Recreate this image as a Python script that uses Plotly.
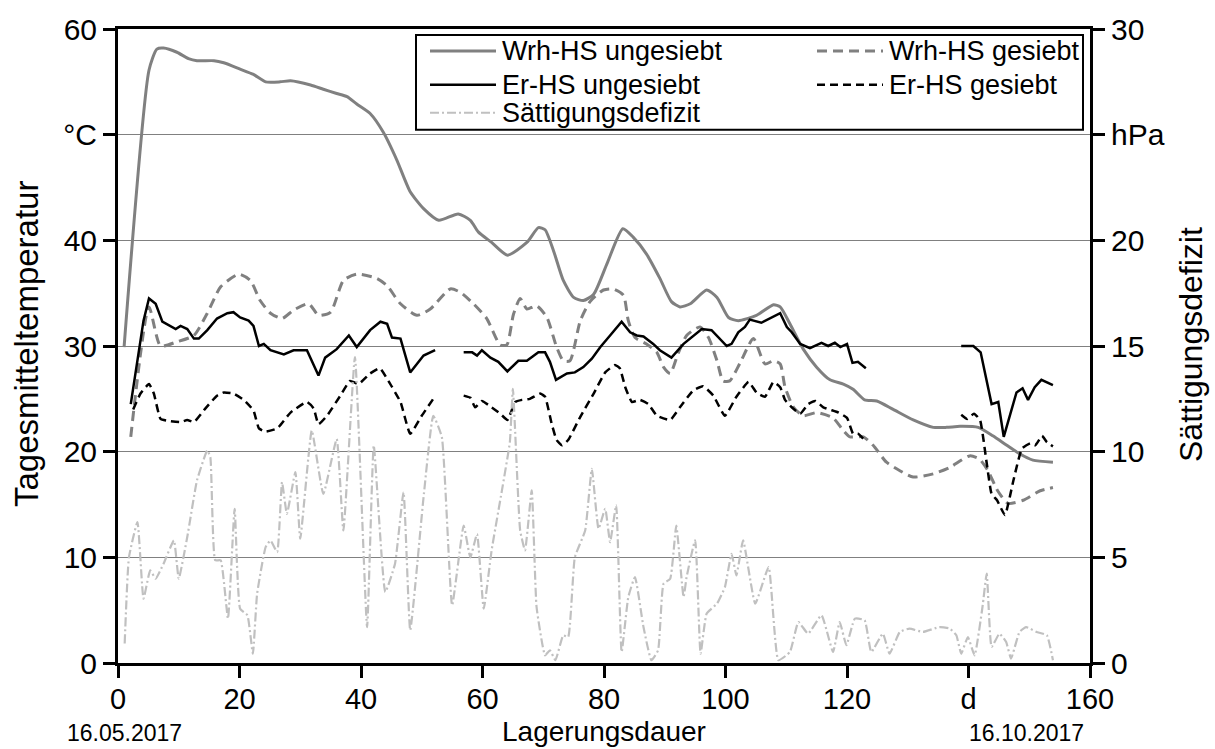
import plotly.graph_objects as go

# ---------------- data ----------------
wrh_ung_day = [1, 5.1, 6.4, 7.5, 9.7, 11.6, 13, 15.8, 17.4, 20.1, 22.3, 24.3, 26.7, 28.4, 31.7, 33.8, 36, 37.7,
               39.3, 41.5, 43.7, 45.9, 48.1, 50.3, 52.8, 56, 58, 59.3, 61.5, 64.1, 67.3, 69.2, 70.3, 71.7, 73.3,
               75, 76.6, 78.3, 80.5, 83.1, 84.8, 87, 89.2, 91.1, 92.5, 94.2, 96.9, 98.6, 100.5, 102.1, 105.1,
               107.9, 109, 110.6, 112.8, 115, 117.2, 119.4, 121, 122.9, 124.9, 127.6, 130.9, 134.2, 136.4,
               138.6, 141.6, 144, 146.3, 148.4, 150.6, 153.9]
wrh_ung = [29.9, 56.1, 58.1, 58.2, 57.8, 57.2, 57.0, 57.0, 56.8, 56.2, 55.7, 55.0, 55.0, 55.1, 54.7, 54.3, 53.9, 53.6,
           52.9, 52.0, 50.2, 47.6, 44.6, 43.0, 41.9, 42.5, 41.9, 40.8, 39.8, 38.6, 39.8, 41.2, 41.0, 39.0, 36.2,
           34.6, 34.3, 34.9, 37.8, 41.1, 40.3, 38.7, 36.4, 34.2, 33.7, 34.0, 35.3, 34.6, 32.7, 32.4, 32.9,
           33.9, 33.7, 32.1, 29.7, 28.0, 26.8, 26.4, 25.9, 24.9, 24.8, 24.0, 23.0, 22.3, 22.3,
           22.4, 22.3, 21.5, 20.6, 19.8, 19.2, 19.0]

wrh_ges_day = [2.1, 5.1, 7, 9.7, 12.5, 14.7, 16.9, 19.9, 21.8, 23.4, 25.1, 27, 28.9, 31.4, 33, 35, 37.1, 39.3,
               42.6, 44.3, 46.5, 49.2, 51.4, 54.7, 56.3, 58.5, 60.7, 62.9, 64, 65.1, 66.2, 67.3, 68.9, 70.6,
               72.2, 73.3, 74.4, 76.1, 77.7, 79.9, 81.5, 83.2, 84, 85.1, 87, 88.7, 89.8, 90.9, 92.2, 93.6,
               95.8, 97.2, 98.6, 99.6, 100.7, 102.4, 104.6, 106.5, 107.9, 109, 109.8, 111.2, 112.8, 115,
               117.7, 119.4, 120.5, 122.7, 124.3, 126.5, 128.7, 130.9, 134.2, 136.9, 140.2, 141.8, 143.2,
               144.8, 146.5, 149, 151.8, 153.9]
wrh_ges = [21.4, 33.7, 30.0, 30.4, 31.0, 33.1, 35.6, 36.8, 36.2, 34.3, 33.1, 32.6, 33.4, 34.0, 32.9, 33.2, 36.2, 36.8,
           36.4, 35.7, 34.0, 32.9, 33.5, 35.4, 35.1, 34.0, 32.6, 30.1, 30.1, 33.0, 34.5, 33.5, 33.8, 32.7,
           29.9, 28.6, 28.6, 32.4, 34.2, 35.3, 35.4, 34.8, 32.4, 30.8, 30.2, 29.4, 28.0, 27.4, 29.3, 31.0,
           31.8, 30.8, 28.6, 26.7, 26.7, 28.4, 30.7, 28.3, 28.6, 28.3, 26.1, 24.2, 23.4, 23.7,
           23.2, 22.0, 21.4, 21.4, 20.6, 19.0, 18.2, 17.6, 17.9, 18.5, 19.6, 19.3, 18.2,
           16.3, 15.1, 15.4, 16.3, 16.6]

er_ung_day = [2.1, 4.2, 5.1, 6.2, 7.3, 8.6, 9.5, 10.3, 11.4, 12.5, 13.3, 14.7, 16.3, 18, 19, 20.1, 21.5, 22.3,
              23.2, 24, 25.1, 27.3, 28.9, 31.1, 33, 34.1, 36, 38, 39.3, 41.5, 43.2, 44.3, 45.1, 46.5, 48.1,
              50.3, 52.2, 54.5,
              56.9, 58.3, 59.1, 59.9, 61.3, 62.6, 64.1, 65.9, 67.3, 69.2, 70.3, 71.1, 72.1, 73.9, 75.2, 76.6,
              78, 79.4, 81, 82.9, 84.3, 85.4, 86.5, 88.1, 89.2, 91.1, 93.1, 94.4, 96.1, 97.7, 99.1, 100.2,
              101, 102.1, 103.2, 104, 105.9, 107.6, 109, 110.1, 110.9, 112.3, 113.9, 115.8, 116.9, 118,
              118.9, 120, 120.9, 121.8, 123.1, 131,
              138.8, 140.8, 142, 143.8, 144.9, 145.8, 147.9, 148.9, 149.8, 150.9, 152, 153.9]
er_ung = [24.5, 32.4, 34.5, 34.0, 32.3, 31.9, 31.6, 31.9, 31.6, 30.7, 30.7, 31.5, 32.6, 33.1, 33.2, 32.7, 32.4, 31.9,
          30.0, 30.2, 29.6, 29.2, 29.6, 29.6, 27.2, 28.9, 29.7, 31.0, 29.9, 31.5, 32.3, 32.1, 30.8, 30.7, 27.5,
          29.1, 29.6, None,
          29.4, 29.4, 29.1, 29.6, 28.9, 28.5, 27.6, 28.6, 28.6, 29.4, 29.4, 28.5, 26.8, 27.4, 27.5, 28.0,
          28.8, 29.9, 31.0, 32.3, 31.3, 31.0, 30.9, 30.2, 29.6, 28.9, 30.2, 30.8, 31.6, 31.5, 30.7, 30.0,
          30.2, 31.3, 31.8, 32.5, 32.2, 32.7, 33.1, 31.8, 31.3, 30.2, 29.8, 30.3, 30.0, 30.3,
          29.9, 30.2, 28.4, 28.5, 27.9, None,
          30.0, 30.0, 29.4, 24.5, 24.7, 21.4, 25.6, 26.0, 24.9, 26.1, 26.8, 26.3]

er_ges_day = [2.5, 3.7, 5.1, 5.9, 7, 8.4, 10.3, 11.4, 12.5, 14.4, 16.3, 17.4, 19, 20.7, 22.3, 23.2, 24.3, 26.2,
              28.4, 31.1, 32.2, 33, 34.4, 36.6, 38.2, 39.6, 41.5, 43.1, 44.5, 46.5, 48.1, 50, 51.9, 54.5,
              56.9, 58, 58.8, 59.9, 61.5, 62.9, 64.1, 65.4, 66.5, 67.8, 69.5, 70.3, 71.4, 72.2, 73.1, 74.1,
              76.1, 78.3, 80.2, 81.8, 82.6, 83.5, 84.6, 85.9, 87.3, 88.7, 90.9, 92.5, 94.7, 96.3, 98, 99.9,
              101.8, 103.8, 105.1, 106.5, 107.9, 109, 109.8, 110.9, 112.3, 113.6, 114.8, 116.1, 118.6, 120,
              121, 121.8, 122.9, 131,
              138.8, 139.8, 140.9, 141.9, 143, 143.8, 144.7, 146, 147.4, 148.8, 150.2, 151, 152.1, 152.9, 153.9]
er_ges = [24.0, 25.5, 26.4, 25.5, 23.1, 22.9, 22.8, 23.0, 22.8, 24.1, 25.3, 25.6, 25.5, 24.9, 23.9, 22.2, 21.9, 22.2,
          23.7, 24.7, 24.1, 22.6, 23.4, 25.3, 26.7, 26.4, 27.4, 27.9, 26.7, 24.7, 21.7, 23.4, 25.0, None,
          25.3, 25.1, 24.2, 24.8, 24.2, 23.6, 23.0, 24.7, 24.9, 25.0, 25.5, 25.2, 22.6, 21.1, 20.6, 21.1,
          23.3, 25.5, 27.5, 28.2, 27.9, 26.1, 24.7, 24.9, 24.5, 23.4, 23.0, 24.2, 25.8, 26.2, 25.3, 23.4,
          25.2, 26.6, 25.6, 25.2, 26.6, 26.1, 24.9, 24.2, 23.6, 24.5, 24.8, 24.2, 23.7, 23.2,
          21.7, 21.7, 21.1, None,
          23.5, 23.1, 23.6, 23.0, 18.9, 16.0, 15.4, 14.0, 17.3, 20.3, 20.8, 20.6, 21.5, 20.9, 20.5]

sd_day = [1.1, 1.8, 3.2, 4.2, 5.3, 6.2, 7.5, 9.2, 10, 11.4, 13, 14.7, 15.2, 16, 16.9, 18.1, 19.2, 20.1, 21.3,
          22.2, 22.9, 24.3, 25.1, 26.2, 27, 27.8, 29.2, 30, 31.9, 33.8, 36, 37.1, 39, 41, 42.1, 44, 45.6, 47,
          48.1, 50.3, 51.9, 53.3, 55, 56.9, 58, 59.1, 60.2, 61.5, 63.2, 64.5, 65, 66.2, 67, 68.1, 68.9, 70.3,
          71.1, 72, 73.3, 74.1, 75.2, 76.9, 78, 79.1, 80.2, 81, 82, 82.9, 84, 85.1, 86.5, 87.8, 88.9, 89.8,
          90.9, 91.9, 93.1, 93.6, 95, 95.9, 96.9, 98.6, 99.9, 101, 101.8, 102.9, 104.9, 107.1, 108.7, 110.6,
          112, 113.6, 115.8, 117.7, 118.8, 119.9, 121.3, 122.9, 124, 125.9, 127, 128.7, 130.3, 132.5, 135.2,
          136.9, 138, 138.8, 139.9, 141, 142.3, 143, 143.8, 145.1, 146.2, 147, 148.4, 149.5, 151.2, 152.9, 153.9]
sd = [0.92, 5.0, 6.67, 3.04, 4.38, 3.99, 4.7, 5.8, 3.99, 5.96, 8.64, 10.06, 9.74, 4.86, 4.86, 2.1, 7.3, 2.57, 2.26,
      0.44, 3.28, 5.48, 5.8, 5.25, 8.56, 7.06, 9.03, 5.88, 11.0, 8.0, 10.6, 6.27, 14.47, 1.7, 10.29, 3.36, 4.7, 8.08,
      1.55, 7.85, 11.7, 10.7, 2.73, 6.5, 5.0, 6.1, 2.57, 5.33, 8.17, 10.45, 12.97, 6.27, 5.33, 8.17, 2.65, 0.36,
      0.6, 0.13, 1.31, 1.23, 5.0, 6.27, 9.19, 6.35, 7.3, 5.72, 7.46, 0.52, 3.12, 4.07, 1.7, 0.13, 0.6, 3.75,
      3.99, 6.5, 3.12, 4.07, 5.8, 0.44, 2.34, 2.81, 3.59, 5.17, 4.15, 5.8, 2.81, 4.54, 0.13, 0.52,
      1.94, 1.39, 2.26, 0.52, 1.94, 0.84, 2.1, 2.02, 0.52, 1.39, 0.44, 1.47, 1.63, 1.47, 1.7,
      1.63, 1.31, 0.44, 1.23, 0.36, 2.65, 4.23, 0.76, 1.39, 0.99, 0.21, 1.47, 1.7, 1.47, 1.31, 0.13]

x_tickvals = [0, 20, 40, 60, 80, 100, 120, 140, 160]
x_ticktext = ["0", "20", "40", "60", "80", "100", "120", "d", "160"]
y_tickvals = [0, 10, 20, 30, 40, 50, 60]
y_ticktext = ["0", "10", "20", "30", "40", "°C", "60"]
y2_tickvals = [0, 5, 10, 15, 20, 25, 30]
y2_ticktext = ["0", "5", "10", "15", "20", "hPa", "30"]

series_names = ["Wrh-HS ungesiebt", "Wrh-HS gesiebt", "Er-HS ungesiebt", "Er-HS gesiebt", "Sättigungsdefizit"]
date_start, date_end = "16.05.2017", "16.10.2017"

FONT = "Liberation Sans, Arial, sans-serif"
GRAY = "#808080"
LIGHT = "#c0c0c0"

styles = {
    "Wrh-HS ungesiebt": dict(color=GRAY, width=3),
    "Wrh-HS gesiebt": dict(color=GRAY, width=3, dash="10px,6px"),
    "Er-HS ungesiebt": dict(color="black", width=2.5),
    "Er-HS gesiebt": dict(color="black", width=2.5, dash="8px,5px"),
    "Sättigungsdefizit": dict(color=LIGHT, width=2.2, dash="9px,3px,2px,3px"),
}

fig = go.Figure()
fig.add_trace(go.Scatter(x=wrh_ung_day, y=wrh_ung, name=series_names[0], mode="lines",
                         line=dict(**styles[series_names[0]], shape="spline", smoothing=0.6)))
fig.add_trace(go.Scatter(x=sd_day, y=sd, name=series_names[4], mode="lines", yaxis="y2",
                         line=dict(**styles[series_names[4]], shape="spline", smoothing=0.4)))
fig.add_trace(go.Scatter(x=wrh_ges_day, y=wrh_ges, name=series_names[1], mode="lines",
                         line=dict(**styles[series_names[1]], shape="spline", smoothing=0.6)))
fig.add_trace(go.Scatter(x=er_ges_day, y=er_ges, name=series_names[3], mode="lines",
                         line=dict(**styles[series_names[3]], shape="spline", smoothing=0.4)))
fig.add_trace(go.Scatter(x=er_ung_day, y=er_ung, name=series_names[2], mode="lines",
                         line=dict(**styles[series_names[2]])))

axis_common = dict(showline=True, linecolor="black", linewidth=3, ticks="outside", ticklen=12, tickwidth=2.5,
                   tickcolor="black", zeroline=False)

fig.update_layout(
    width=1215, height=749,
    margin=dict(l=118, r=125, t=27, b=86),
    paper_bgcolor="white", plot_bgcolor="white",
    font=dict(family=FONT, color="black"),
    showlegend=False,
    xaxis=dict(range=[0, 160], tickvals=x_tickvals, ticktext=x_ticktext, mirror=True, showgrid=False,
               tickfont=dict(family=FONT, size=29, color="black"), ticklabelstandoff=-4, **axis_common),
    yaxis=dict(range=[0, 60], tickvals=y_tickvals, ticktext=y_ticktext, showgrid=True, gridcolor="#808080",
               gridwidth=1, tickfont=dict(family=FONT, size=30, color="black"), **axis_common),
    yaxis2=dict(range=[0, 30], tickvals=y2_tickvals, ticktext=y2_ticktext, overlaying="y", side="right",
                showgrid=False, tickfont=dict(family=FONT, size=30, color="black"), **axis_common),
)

# ---- legend (drawn manually: frame, sample lines, labels) ----
PW, PH, PL, PB = 972.0, 636.0, 118.0, 663.0


def px(xp):
    return (xp - PL) / PW


def py(yp):
    return (PB - yp) / PH


fig.add_shape(type="rect", xref="paper", yref="paper", x0=px(416), x1=px(1083), y0=py(128), y1=py(33),
              line=dict(color="black", width=2), fillcolor="white", layer="above")
legend_slots = [(series_names[0], 430, 49), (series_names[1], 817, 49),
                (series_names[2], 430, 83), (series_names[3], 817, 83),
                (series_names[4], 430, 111)]
for name, sx, sy in legend_slots:
    fig.add_shape(type="line", xref="paper", yref="paper", x0=px(sx), x1=px(sx + 66), y0=py(sy), y1=py(sy),
                  line=styles[name], layer="above")
    fig.add_annotation(text=name, xref="paper", yref="paper", x=px(sx + 70), y=py(sy), xanchor="left",
                       yanchor="middle", showarrow=False, font=dict(family=FONT, size=27, color="black"))

# axis titles and dates
fig.add_annotation(text="Tagesmitteltemperatur", xref="paper", yref="paper", x=0, y=py(343), xshift=-92,
                   xanchor="center", yanchor="middle", textangle=-90, showarrow=False,
                   font=dict(family=FONT, size=33, color="black"))
fig.add_annotation(text="Sättigungsdefizit", xref="paper", yref="paper", x=1, y=py(344), xshift=101,
                   xanchor="center", yanchor="middle", textangle=-90, showarrow=False,
                   font=dict(family=FONT, size=32, color="black"))
fig.add_annotation(text="Lagerungsdauer", xref="paper", yref="paper", x=0.5, y=0, yshift=-68,
                   xanchor="center", yanchor="middle", showarrow=False,
                   font=dict(family=FONT, size=28, color="black"))
fig.add_annotation(text=date_start, xref="paper", yref="paper", x=px(124), y=0, yshift=-70,
                   xanchor="center", yanchor="middle", showarrow=False,
                   font=dict(family=FONT, size=23, color="black"))
fig.add_annotation(text=date_end, xref="paper", yref="paper", x=px(1026), y=0, yshift=-70,
                   xanchor="center", yanchor="middle", showarrow=False,
                   font=dict(family=FONT, size=23, color="black"))

fig.write_html("out.html")
